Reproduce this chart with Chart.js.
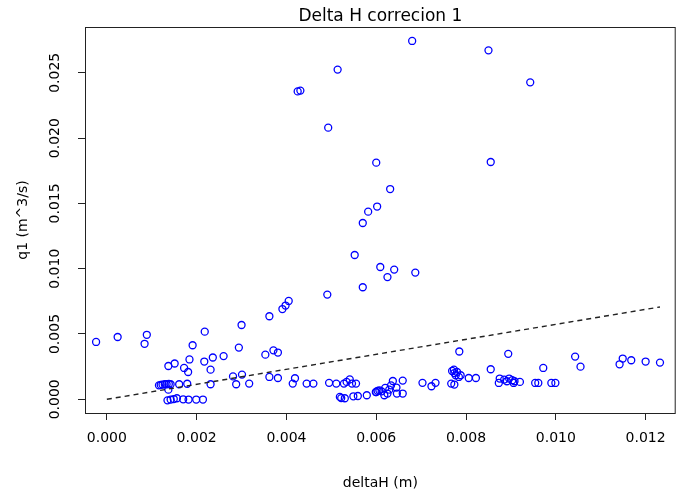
<!DOCTYPE html>
<html>
<head>
<meta charset="utf-8">
<script src="https://cdn.jsdelivr.net/npm/chart.js@4.4.0/dist/chart.umd.min.js"></script>
<style>
  html, body { margin: 0; padding: 0; background: #fff; }
  canvas { display: block; }
</style>
</head>
<body>
<canvas id="plot" width="681" height="497"></canvas>
<script>
// deltaH (m) vs q1 (m^3/s)
const deltaH = [
  0.00680, 0.00850, 0.00943, 0.00514, 0.00425, 0.00431, 0.00493, 0.00600, 0.00855, 0.00631,
  0.00602, 0.00582, 0.00570, 0.00552, 0.00609, 0.00640, 0.00625, 0.00687, 0.00570, 0.00491,
  0.00405, 0.00398, 0.00391, 0.00362, 0.00300, 0.00218, -0.00024, 0.00024, 0.00089, 0.00084,
  0.00191, 0.00294, 0.00353, 0.00371, 0.00381, 0.00137, 0.00151, 0.00184, 0.00172, 0.00181,
  0.00217, 0.00236, 0.00260, 0.00231, 0.00281, 0.00301, 0.00362, 0.00381, 0.00419, 0.00414,
  0.00445, 0.00460, 0.00495, 0.00511, 0.00528, 0.00534, 0.00541, 0.00546, 0.00555,
  0.00519, 0.00522, 0.00530, 0.00549, 0.00559, 0.00579, 0.00599, 0.00603,
  0.00116, 0.00120, 0.00124, 0.00129, 0.00133, 0.00138, 0.00142, 0.00137, 0.00161, 0.00179, 0.00231, 0.00288, 0.00317,
  0.00135, 0.00142, 0.00149, 0.00156, 0.00170, 0.00182, 0.00199, 0.00214,
  0.00600, 0.00607, 0.00612, 0.00620, 0.00618, 0.00625, 0.00629, 0.00633, 0.00637, 0.00645, 0.00646, 0.00659, 0.00659,
  0.00703, 0.00723, 0.00732, 0.00767, 0.00774,
  0.00769, 0.00773, 0.00774, 0.00777, 0.00780, 0.00784, 0.00788, 0.00785,
  0.00806, 0.00822, 0.00855, 0.00894,
  0.00873, 0.00875, 0.00885, 0.00891, 0.00896, 0.00903, 0.00908, 0.00906, 0.00920,
  0.00954, 0.00961, 0.00972, 0.00990, 0.00999, 0.01043, 0.01055, 0.01142, 0.01149, 0.01168, 0.01200, 0.01232
];
const q1 = [
  0.02744, 0.02672, 0.02427, 0.02525, 0.02358, 0.02364, 0.02080, 0.01812, 0.01817, 0.01610,
  0.01476, 0.01437, 0.01350, 0.01105, 0.01013, 0.00993, 0.00936, 0.00970, 0.00858, 0.00802,
  0.00753, 0.00718, 0.00691, 0.00636, 0.00569, 0.00518, 0.00439, 0.00477, 0.00494, 0.00425,
  0.00414, 0.00396, 0.00342, 0.00375, 0.00358, 0.00255, 0.00274, 0.00305, 0.00240, 0.00209,
  0.00289, 0.00320, 0.00331, 0.00227, 0.00175, 0.00189, 0.00171, 0.00163, 0.00161, 0.00120,
  0.00120, 0.00120, 0.00126, 0.00120, 0.00120, 0.00133, 0.00152, 0.00120, 0.00120,
  0.00018, 0.00009, 0.00008, 0.00023, 0.00025, 0.00031, 0.00055, 0.00065,
  0.00107, 0.00110, 0.00113, 0.00115, 0.00115, 0.00117, 0.00115, 0.00074, 0.00115, 0.00119, 0.00115, 0.00115, 0.00120,
  -0.00008, -0.00002, 0.00002, 0.00008, 0.00000, -0.00002, -0.00002, -0.00002,
  0.00056, 0.00069, 0.00061, 0.00087, 0.00031, 0.00044, 0.00074, 0.00107, 0.00140, 0.00090, 0.00044, 0.00143, 0.00044,
  0.00126, 0.00100, 0.00126, 0.00120, 0.00113,
  0.00217, 0.00227, 0.00201, 0.00184, 0.00209, 0.00171, 0.00184, 0.00366,
  0.00163, 0.00163, 0.00230, 0.00348,
  0.00125, 0.00159, 0.00151, 0.00138, 0.00159, 0.00146, 0.00138, 0.00125, 0.00133,
  0.00125, 0.00125, 0.00240, 0.00125, 0.00125, 0.00327, 0.00250, 0.00268, 0.00312, 0.00299, 0.00289, 0.00281
];

// dashed reference line (two ends)
const lineX = [0, 0.01232];
const lineY = [0, 0.00707];

const xTicks = [0, 0.002, 0.004, 0.006, 0.008, 0.010, 0.012];
const yTicks = [0, 0.005, 0.010, 0.015, 0.020, 0.025];

const font = 'DejaVu Sans';

const frame = {
  id: 'frame',
  beforeDraw(chart) {
    const ctx = chart.ctx;
    ctx.save();
    ctx.fillStyle = '#fff';
    ctx.fillRect(0, 0, chart.width, chart.height);
    ctx.restore();
  },
  afterDraw(chart) {
    const a = chart.chartArea;
    const ctx = chart.ctx;
    ctx.save();
    ctx.strokeStyle = '#222';
    ctx.lineWidth = 1;
    ctx.strokeRect(a.left + 0.5, a.top + 0.5, a.right - a.left - 1, a.bottom - a.top);
    ctx.restore();
  }
};

new Chart(document.getElementById('plot'), {
  type: 'scatter',
  data: {
    datasets: [
      {
        type: 'line',
        data: lineX.map((x, i) => ({ x: x, y: lineY[i] })),
        borderColor: '#222',
        borderWidth: 1.4,
        borderDash: [5, 4],
        pointRadius: 0,
        fill: false
      },
      {
        data: deltaH.map((x, i) => ({ x: x, y: q1[i] })),
        pointStyle: 'circle',
        pointRadius: 3.5,
        pointBorderWidth: 1.3,
        pointBorderColor: '#0000ff',
        pointBackgroundColor: 'rgba(0,0,0,0)'
      }
    ]
  },
  options: {
    responsive: false,
    animation: false,
    devicePixelRatio: 1,
    events: [],
    layout: { padding: { top: 0, right: 1, bottom: 0, left: 0 } },
    plugins: {
      legend: { display: false },
      tooltip: { enabled: false },
      title: {
        display: true,
        fullSize: false,
        text: 'Delta H correcion 1',
        color: '#000',
        font: { family: font, size: 17, weight: 'normal', lineHeight: '20px' },
        padding: { top: 7, bottom: 0 }
      }
    },
    scales: {
      x: {
        type: 'linear',
        min: -0.000487,
        max: 0.01267,
        afterFit(scale) { scale.height = 84; },
        afterBuildTicks(scale) { scale.ticks = xTicks.map(v => ({ value: v })); },
        grid: { drawOnChartArea: false, drawTicks: true, tickLength: 7, tickColor: '#222' },
        border: { display: false },
        ticks: {
          color: '#000',
          font: { family: font, size: 14 },
          padding: 10,
          maxRotation: 0,
          autoSkip: false,
          callback: v => Number(v).toFixed(3)
        },
        title: {
          display: true,
          text: 'deltaH (m)',
          color: '#000',
          font: { family: font, size: 14 },
          padding: { top: 0, bottom: 5 }
        }
      },
      y: {
        type: 'linear',
        min: -0.00105,
        max: 0.02851,
        afterFit(scale) { scale.width = 85; },
        afterBuildTicks(scale) { scale.ticks = yTicks.map(v => ({ value: v })); },
        grid: { drawOnChartArea: false, drawTicks: true, tickLength: 7, tickColor: '#222' },
        border: { display: false },
        ticks: {
          color: '#000',
          font: { family: font, size: 14 },
          padding: 3,
          minRotation: 90,
          maxRotation: 90,
          crossAlign: 'center',
          autoSkip: false,
          callback: v => Number(v).toFixed(3)
        },
        title: {
          display: true,
          text: 'q1 (m^3/s)',
          color: '#000',
          font: { family: font, size: 14 },
          padding: { top: 15, bottom: 0 }
        }
      }
    }
  },
  plugins: [frame]
});
</script>
</body>
</html>
